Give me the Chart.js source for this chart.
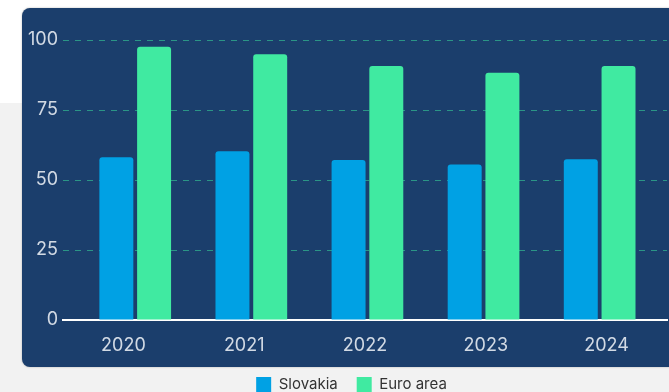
<!DOCTYPE html>
<html>
<head>
<meta charset="utf-8">
<script src="https://cdn.jsdelivr.net/npm/chart.js@4/dist/chart.umd.min.js"></script>
<style>
  html, body { margin: 0; padding: 0; }
  body {
    width: 669px; height: 392px; overflow: hidden; position: relative;
    background: linear-gradient(#ffffff 0, #ffffff 103px, #f2f2f2 103px, #f2f2f2 100%);
    font-family: Inter, "Open Sans", sans-serif;
  }
  #panel {
    position: absolute; left: 22px; top: 8px; width: 680px; height: 359px;
    background: #1b3e6c; border-radius: 8px;
    box-shadow: 0 0 2px rgba(0,0,0,0.3);
  }
  #wrap { position: absolute; left: 0; top: 0; width: 669px; height: 402px; }
</style>
</head>
<body>
<div id="panel"></div>
<div id="wrap"><canvas id="c"></canvas></div>
<script>
// Share of population (index values) by year
const years = ["2020", "2021", "2022", "2023", "2024"];
const slovakia = [58.1, 60.3, 57.1, 55.5, 57.4];
const euroArea = [97.6, 94.9, 90.7, 88.3, 90.7];
const yTicks = [0, 25, 50, 75, 100];

const tickColor = "rgba(226,231,239,0.92)";
const tickFont = { family: "Inter, 'Open Sans', sans-serif", size: 18 };

const toPoints = (vals) => vals.map((v, i) => ({ x: i, y: v }));

// keep the legend centred under the panel rather than the whole canvas
const legendShift = {
  id: "legendShift",
  afterLayout(chart) {
    if (chart.legend) chart.legend.left = 36;
  }
};

new Chart(document.getElementById("c"), {
  type: "bar",
  plugins: [legendShift],
  data: {
    labels: years,
    datasets: [
      {
        label: "Slovakia",
        data: toPoints(slovakia),
        xAxisID: "xb",
        backgroundColor: "#00a1e4",
        borderRadius: 3,
        borderSkipped: "start",
        categoryPercentage: 0.65,
        barPercentage: 0.9
      },
      {
        label: "Euro area",
        data: toPoints(euroArea),
        xAxisID: "xb",
        backgroundColor: "#40eaa1",
        borderRadius: 3,
        borderSkipped: "start",
        categoryPercentage: 0.65,
        barPercentage: 0.9
      }
    ]
  },
  options: {
    responsive: true,
    maintainAspectRatio: false,
    animation: false,
    layout: { padding: { left: 0, right: 2, top: 40, bottom: 0 } },
    plugins: {
      tooltip: { enabled: false },
      legend: {
        position: "bottom",
        align: "center",
        labels: {
          boxWidth: 15,
          boxHeight: 15,
          padding: 19,
          color: "#333333",
          font: { family: "Inter, 'Open Sans', sans-serif", size: 15 }
        }
      }
    },
    scales: {
      // bar positions
      xb: {
        type: "linear",
        display: false,
        offset: false,
        min: -0.622,
        max: 4.58,
        afterBuildTicks: (s) => { s.ticks = years.map((_, i) => ({ value: i })); }
      },
      // year labels
      x: {
        type: "category",
        position: "bottom",
        offset: true,
        z: 1,
        grid: { display: false, drawTicks: false },
        border: { display: true, color: "#ffffff", width: 2 },
        ticks: { color: tickColor, font: tickFont, padding: 15 },
        afterFit: (s) => { s.height = 38; }
      },
      y: {
        min: 0,
        max: 100,
        afterBuildTicks: (s) => { s.ticks = yTicks.map((v) => ({ value: v })); },
        grid: {
          color: "#2b9586",
          lineWidth: 1,
          drawTicks: false
        },
        border: { display: false, dash: [6, 6] },
        ticks: { color: tickColor, font: tickFont, padding: 5 },
        afterFit: (s) => { s.width = 63; }
      }
    }
  }
});
</script>
</body>
</html>
